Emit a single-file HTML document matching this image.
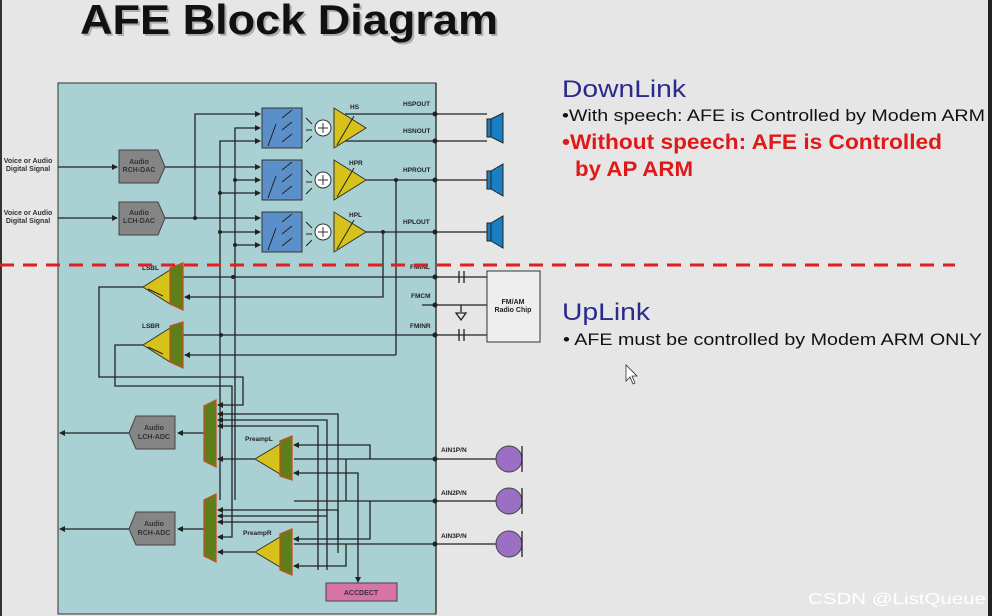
<!DOCTYPE html>
<html><head><meta charset="utf-8"><style>
html,body{margin:0;padding:0;background:#e6e6e6;}
svg{display:block;font-family:"Liberation Sans",Arial,sans-serif;}
</style></head><body>
<svg width="992" height="616" viewBox="0 0 992 616" xmlns="http://www.w3.org/2000/svg">
<defs>
<marker id="a" markerWidth="6" markerHeight="6" refX="5" refY="3" orient="auto" markerUnits="userSpaceOnUse"><path d="M0,0 L6,3 L0,6z" fill="#222"/></marker>
</defs>
<rect width="992" height="616" fill="#e6e6e6"/>
<rect x="0" y="0" width="2" height="616" fill="#333"/>
<rect x="988" y="0" width="4" height="616" fill="#222"/>
<text x="82" y="36" font-size="42" font-weight="bold" fill="#888" opacity="0.6" textLength="418" lengthAdjust="spacingAndGlyphs">AFE Block Diagram</text>
<text x="80" y="34" font-size="42" font-weight="bold" fill="#111" textLength="418" lengthAdjust="spacingAndGlyphs">AFE Block Diagram</text>

<rect x="58" y="83" width="378" height="531" fill="#a9d1d4" stroke="#333" stroke-width="1"/>

<g stroke="#222" stroke-width="1.3" fill="none">
<line x1="58" y1="167" x2="117" y2="167" marker-end="url(#a)"/>
<line x1="58" y1="218" x2="117" y2="218" marker-end="url(#a)"/>
<line x1="165" y1="167" x2="260" y2="167" marker-end="url(#a)"/>
<line x1="165" y1="218" x2="260" y2="218" marker-end="url(#a)"/>
<polyline points="195,218 195,114 260,114" marker-end="url(#a)"/>
<polyline points="235,500 235,128 260,128" marker-end="url(#a)"/>
<polyline points="220,500 220,141 260,141" marker-end="url(#a)"/>
<line x1="235" y1="180" x2="260" y2="180" marker-end="url(#a)"/>
<line x1="220" y1="193" x2="260" y2="193" marker-end="url(#a)"/>
<line x1="220" y1="232" x2="260" y2="232" marker-end="url(#a)"/>
<line x1="235" y1="245" x2="260" y2="245" marker-end="url(#a)"/>
<line x1="345" y1="114" x2="487" y2="114"/>
<line x1="345" y1="141" x2="487" y2="141"/>
<line x1="366" y1="180" x2="487" y2="180"/>
<line x1="366" y1="232" x2="487" y2="232"/>
<polyline points="396,180 396,335"/>
<polyline points="383,232 383,297 185,297" marker-end="url(#a)"/>
<polyline points="396,355 185,355" marker-end="url(#a)"/>
<line x1="396" y1="335" x2="396" y2="355"/>
<line x1="183" y1="277" x2="487" y2="277"/>
<line x1="183" y1="335" x2="487" y2="335"/>
<line x1="422" y1="305" x2="487" y2="305"/>
<polyline points="143,287 99,287 99,377 243,377 243,405 218,405" marker-end="url(#a)"/>
<polyline points="143,345 115,345 115,386 232,386 232,537 218,537" marker-end="url(#a)"/>
<polyline points="338,553 338,414 218,414" marker-end="url(#a)"/>
<polyline points="327,570 327,420 218,420" marker-end="url(#a)"/>
<polyline points="318,570 318,426 218,426" marker-end="url(#a)"/>
<line x1="255" y1="459" x2="218" y2="459" marker-end="url(#a)"/>
<polyline points="370,459 370,445 294,445" marker-end="url(#a)"/>
<line x1="436" y1="459" x2="294" y2="459"/>
<polyline points="358,544 358,473 294,473" marker-end="url(#a)"/>
<polyline points="346,501 346,459"/>
<polyline points="338,540 338,510 218,510" marker-end="url(#a)"/>
<polyline points="327,516 218,516" marker-end="url(#a)"/>
<polyline points="318,522 218,522" marker-end="url(#a)"/>
<line x1="255" y1="552" x2="218" y2="552" marker-end="url(#a)"/>
<line x1="436" y1="501" x2="294" y2="501"/>
<polyline points="370,501 370,539 294,539" marker-end="url(#a)"/>
<line x1="436" y1="544" x2="294" y2="544"/>
<polyline points="346,544 346,566 294,566" marker-end="url(#a)"/>
<line x1="358" y1="544" x2="358" y2="582" marker-end="url(#a)"/>
<line x1="204" y1="433" x2="178" y2="433" marker-end="url(#a)"/>
<line x1="129" y1="433" x2="60" y2="433" marker-end="url(#a)"/>
<line x1="204" y1="529" x2="178" y2="529" marker-end="url(#a)"/>
<line x1="129" y1="529" x2="60" y2="529" marker-end="url(#a)"/>
<line x1="436" y1="459" x2="496" y2="459"/>
<line x1="436" y1="501" x2="496" y2="501"/>
<line x1="436" y1="544" x2="496" y2="544"/>
<line x1="459" y1="271" x2="459" y2="283"/><line x1="464" y1="271" x2="464" y2="283"/>
<line x1="459" y1="329" x2="459" y2="341"/><line x1="464" y1="329" x2="464" y2="341"/>
<line x1="461" y1="305" x2="461" y2="312"/>
<path d="M456,313 L466,313 L461,320z"/>
</g>
<line x1="436" y1="83" x2="436" y2="614" stroke="#222" stroke-width="1.3"/>
<g fill="#222">
<circle cx="435" cy="114" r="2.5"/><circle cx="435" cy="141" r="2.5"/><circle cx="435" cy="180" r="2.5"/><circle cx="435" cy="232" r="2.5"/>
<circle cx="435" cy="277" r="2.5"/><circle cx="435" cy="305" r="2.5"/><circle cx="435" cy="335" r="2.5"/>
<circle cx="435" cy="459" r="2.5"/><circle cx="435" cy="501" r="2.5"/><circle cx="435" cy="544" r="2.5"/>
<circle cx="195" cy="218" r="2"/><circle cx="235" cy="180" r="2"/><circle cx="220" cy="193" r="2"/><circle cx="220" cy="232" r="2"/><circle cx="235" cy="245" r="2"/>
<circle cx="396" cy="180" r="2"/><circle cx="383" cy="232" r="2"/><circle cx="233" cy="277" r="2"/><circle cx="221" cy="335" r="2"/>
</g>
<rect x="487" y="271" width="53" height="71" fill="#eee" stroke="#333"/>
<text x="513" y="304" font-size="7" font-weight="bold" text-anchor="middle" fill="#222">FM/AM</text>
<text x="513" y="312" font-size="7" font-weight="bold" text-anchor="middle" fill="#222">Radio Chip</text>
<g fill="#858585" stroke="#444">
<path d="M119,150 L158,150 L165,167 L158,183 L119,183z"/>
<path d="M119,202 L158,202 L165,218 L158,235 L119,235z"/>
<path d="M136,416 L175,416 L175,449 L136,449 L129,433z"/>
<path d="M136,512 L175,512 L175,545 L136,545 L129,529z"/>
</g>
<g font-size="7" font-weight="bold" fill="#333" text-anchor="middle">
<text x="139" y="164">Audio</text><text x="139" y="172">RCH-DAC</text>
<text x="139" y="215">Audio</text><text x="139" y="223">LCH-DAC</text>
<text x="154" y="430">Audio</text><text x="154" y="439">LCH-ADC</text>
<text x="154" y="526">Audio</text><text x="154" y="535">RCH-ADC</text>
<text x="28" y="163">Voice or Audio</text><text x="28" y="171">Digital Signal</text>
<text x="28" y="215">Voice or Audio</text><text x="28" y="223">Digital Signal</text>
</g>
<g font-size="6.5" font-weight="bold" fill="#222">
<text x="403" y="106">HSPOUT</text><text x="403" y="133">HSNOUT</text><text x="403" y="172">HPROUT</text><text x="403" y="224">HPLOUT</text>
<text x="410" y="269">FMINL</text><text x="411" y="298">FMCM</text><text x="410" y="328">FMINR</text>
<text x="441" y="452">AIN1P/N</text><text x="441" y="495">AIN2P/N</text><text x="441" y="538">AIN3P/N</text>
<text x="350" y="109">HS</text><text x="349" y="165">HPR</text><text x="349" y="217">HPL</text>
<text x="142" y="270">LSBL</text><text x="142" y="328">LSBR</text>
<text x="245" y="441">PreampL</text><text x="243" y="535">PreampR</text>
</g>
<g>
<rect x="262" y="108" width="40" height="40" fill="#5b8fc9" stroke="#333"/>
<rect x="262" y="160" width="40" height="40" fill="#5b8fc9" stroke="#333"/>
<rect x="262" y="212" width="40" height="40" fill="#5b8fc9" stroke="#333"/>
<g stroke="#222" stroke-width="1" fill="none">
<path d="M268,146 L276,124 M282,118 L292,110 M282,130 L292,122 M282,142 L292,134 M306,118 L312,124 M306,130 L312,130 M306,142 L312,136"/>
<path d="M268,198 L276,176 M282,170 L292,162 M282,182 L292,174 M282,194 L292,186 M306,170 L312,176 M306,182 L312,182 M306,194 L312,188"/>
<path d="M268,250 L276,228 M282,222 L292,214 M282,234 L292,226 M282,246 L292,238 M306,222 L312,228 M306,234 L312,234 M306,246 L312,240"/>
</g>
<g fill="#fff" stroke="#333">
<circle cx="323" cy="128" r="8"/><circle cx="323" cy="180" r="8"/><circle cx="323" cy="232" r="8"/>
</g>
<g stroke="#333"><path d="M318,128h10M323,123v10M318,180h10M323,175v10M318,232h10M323,227v10"/></g>
<g fill="#d6c21a" stroke="#333">
<path d="M334,108 L366,128 L334,148z"/><path d="M334,160 L366,180 L334,200z"/><path d="M334,212 L366,232 L334,252z"/>
<path d="M170,270 L143,287 L170,304z"/><path d="M170,328 L143,345 L170,362z"/>
<path d="M280,444 L255,459 L280,474z"/><path d="M280,537 L255,552 L280,567z"/>
</g>
<g stroke="#222"><path d="M337,145 L354,116 M337,197 L354,168 M337,249 L354,220 M148,289 L163,296 M148,347 L163,354"/></g>
<g fill="#5d7f1a" stroke="#c8501e" stroke-width="1.3">
<path d="M170,268 L183,263 L183,310 L170,304z"/>
<path d="M170,326 L183,322 L183,368 L170,362z"/>
<path d="M204,406 L216,400 L216,467 L204,461z"/>
<path d="M204,500 L216,494 L216,562 L204,556z"/>
<path d="M280,441 L292,436 L292,480 L280,476z"/>
<path d="M280,534 L292,529 L292,575 L280,570z"/>
</g>
<g fill="#1a7fc2" stroke="#222">
<rect x="487" y="119" width="4" height="18"/><path d="M491,119 L503,113 L503,143 L491,137z"/>
<rect x="487" y="171" width="4" height="18"/><path d="M491,171 L503,164 L503,196 L491,189z"/>
<rect x="487" y="223" width="4" height="18"/><path d="M491,223 L503,216 L503,248 L491,241z"/>
</g>
<g fill="#9b6fc4" stroke="#444">
<circle cx="509" cy="459" r="13"/><circle cx="509" cy="501" r="13"/><circle cx="509" cy="544" r="13"/>
</g>
<g stroke="#222" stroke-width="1.3"><path d="M522,446v26M522,488v26M522,531v26"/></g>
<rect x="326" y="583" width="71" height="18" fill="#d873a7" stroke="#444"/>
<text x="361" y="595" font-size="7" font-weight="bold" text-anchor="middle" fill="#333">ACCDECT</text>
</g>
<line x1="0" y1="265" x2="955" y2="265" stroke="#e02020" stroke-width="3" stroke-dasharray="14,9"/>
<text x="562" y="97" font-size="24" fill="#2a2a8a" textLength="124" lengthAdjust="spacingAndGlyphs">DownLink</text>
<text x="562" y="121" font-size="17" fill="#111" textLength="423" lengthAdjust="spacingAndGlyphs">•With speech: AFE is Controlled by Modem ARM</text>
<text x="562" y="149" font-size="21" font-weight="bold" fill="#e01818" textLength="380" lengthAdjust="spacingAndGlyphs">•Without speech: AFE is Controlled</text>
<text x="575" y="176" font-size="21" font-weight="bold" fill="#e01818" textLength="118" lengthAdjust="spacingAndGlyphs">by AP ARM</text>
<text x="562" y="320" font-size="24" fill="#2a2a8a" textLength="88" lengthAdjust="spacingAndGlyphs">UpLink</text>
<text x="563" y="345" font-size="17" fill="#111" textLength="419" lengthAdjust="spacingAndGlyphs">• AFE must be controlled by Modem ARM ONLY</text>
<path d="M626,365 L626,381 L630,377 L633,384 L635,383 L632,376 L637,376z" fill="#fff" stroke="#333" stroke-width="0.8"/>
<text x="808" y="604" font-size="16" fill="#fff" textLength="178" lengthAdjust="spacingAndGlyphs">CSDN @ListQueue</text>
</svg>
</body></html>
